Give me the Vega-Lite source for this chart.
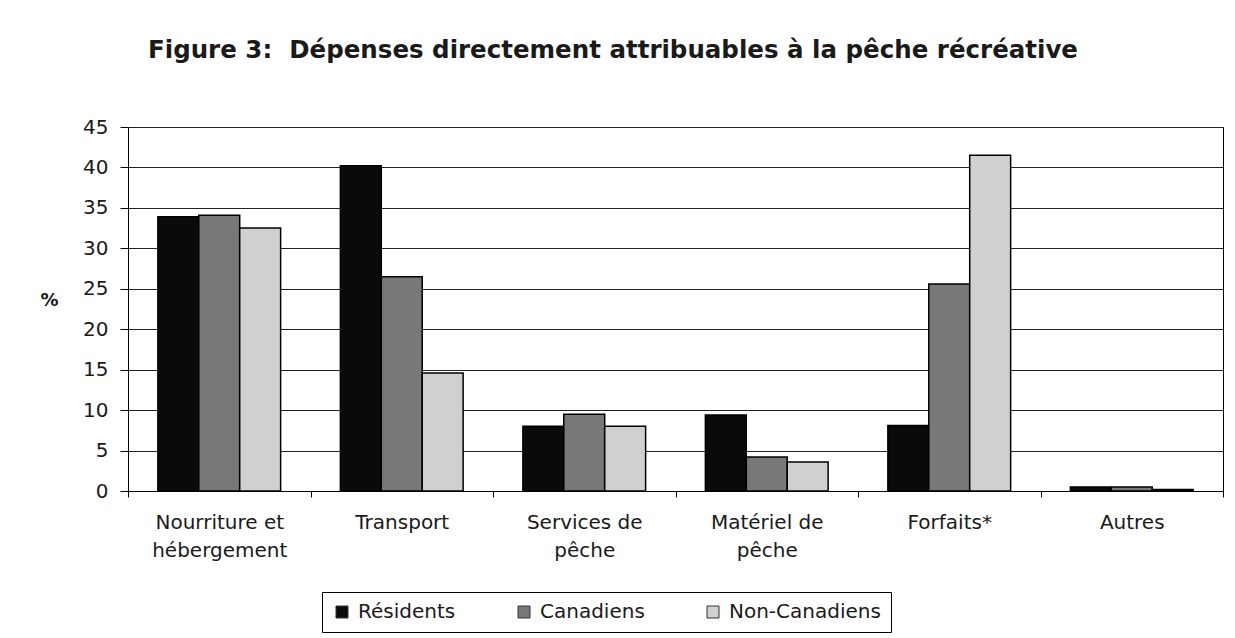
{
  "$schema": "https://vega.github.io/schema/vega-lite/v6.json",
  "autosize": {"type": "none"},
  "width": 1095,
  "height": 364,
  "padding": {"left": 128, "top": 127, "right": 12, "bottom": 147},
  "background": "white",
  "title": {
    "text": "Figure 3:\u00a0 Dépenses directement attribuables à la pêche récréative",
    "anchor": "start",
    "frame": "group",
    "dx": 20,
    "offset": 54,
    "font": "DejaVu Sans",
    "fontSize": 24.5,
    "fontWeight": "bold",
    "color": "#1a1a1a"
  },
  "data": {
    "values": [
      {"categorie": "Nourriture et hébergement", "groupe": "Résidents", "pct": 33.9},
      {"categorie": "Nourriture et hébergement", "groupe": "Canadiens", "pct": 34.1},
      {"categorie": "Nourriture et hébergement", "groupe": "Non-Canadiens", "pct": 32.5},
      {"categorie": "Transport", "groupe": "Résidents", "pct": 40.2},
      {"categorie": "Transport", "groupe": "Canadiens", "pct": 26.5},
      {"categorie": "Transport", "groupe": "Non-Canadiens", "pct": 14.6},
      {"categorie": "Services de pêche", "groupe": "Résidents", "pct": 8.0},
      {"categorie": "Services de pêche", "groupe": "Canadiens", "pct": 9.5},
      {"categorie": "Services de pêche", "groupe": "Non-Canadiens", "pct": 8.0},
      {"categorie": "Matériel de pêche", "groupe": "Résidents", "pct": 9.4},
      {"categorie": "Matériel de pêche", "groupe": "Canadiens", "pct": 4.2},
      {"categorie": "Matériel de pêche", "groupe": "Non-Canadiens", "pct": 3.6},
      {"categorie": "Forfaits*", "groupe": "Résidents", "pct": 8.1},
      {"categorie": "Forfaits*", "groupe": "Canadiens", "pct": 25.6},
      {"categorie": "Forfaits*", "groupe": "Non-Canadiens", "pct": 41.5},
      {"categorie": "Autres", "groupe": "Résidents", "pct": 0.5},
      {"categorie": "Autres", "groupe": "Canadiens", "pct": 0.5},
      {"categorie": "Autres", "groupe": "Non-Canadiens", "pct": 0.2}
    ]
  },
  "mark": {"type": "bar", "stroke": "#000", "strokeWidth": 1.5},
  "encoding": {
    "x": {
      "field": "categorie",
      "type": "nominal",
      "sort": null,
      "scale": {"paddingInner": 0, "paddingOuter": 0},
      "axis": {
        "title": null,
        "labelAngle": 0,
        "tickBand": "extent",
        "tickSize": 6,
        "tickColor": "#000",
        "domainColor": "#000",
        "labelFont": "DejaVu Sans",
        "labelFontSize": 20,
        "labelColor": "#1a1a1a",
        "labelPadding": 15,
        "labelLineHeight": 28,
        "labelLimit": 0,
        "labelExpr": "datum.value == 'Nourriture et hébergement' ? ['Nourriture et', 'hébergement'] : datum.value == 'Services de pêche' ? ['Services de', 'pêche'] : datum.value == 'Matériel de pêche' ? ['Matériel de', 'pêche'] : datum.label"
      }
    },
    "xOffset": {
      "field": "groupe",
      "type": "nominal",
      "sort": ["Résidents", "Canadiens", "Non-Canadiens"],
      "scale": {"paddingInner": 0, "paddingOuter": 0.73}
    },
    "y": {
      "field": "pct",
      "type": "quantitative",
      "scale": {"domain": [0, 45], "nice": false},
      "axis": {
        "values": [0, 5, 10, 15, 20, 25, 30, 35, 40, 45],
        "title": "%",
        "titleAngle": 0,
        "titleX": -79,
        "titleY": 173,
        "titleAlign": "center",
        "titleBaseline": "middle",
        "titleFont": "DejaVu Sans",
        "titleFontSize": 18,
        "titleFontWeight": "bold",
        "titleColor": "#1a1a1a",
        "labelFont": "DejaVu Sans",
        "labelFontSize": 20,
        "labelColor": "#1a1a1a",
        "labelPadding": 12,
        "tickSize": 8,
        "tickColor": "#000",
        "domainColor": "#000",
        "grid": true,
        "gridColor": "#222",
        "gridWidth": 1
      }
    },
    "color": {
      "field": "groupe",
      "type": "nominal",
      "sort": ["Résidents", "Canadiens", "Non-Canadiens"],
      "scale": {
        "domain": ["Résidents", "Canadiens", "Non-Canadiens"],
        "range": ["#0a0a0a", "#787878", "#d0d0d0"]
      },
      "legend": {
        "title": null,
        "orient": "none",
        "legendX": 194,
        "legendY": 465,
        "direction": "horizontal",
        "columns": 3,
        "columnPadding": 58,
        "symbolType": "square",
        "symbolSize": 144,
        "symbolStrokeColor": "#333",
        "symbolStrokeWidth": 1,
        "symbolOpacity": 1,
        "labelFont": "DejaVu Sans",
        "labelFontSize": 20,
        "labelColor": "#1a1a1a",
        "labelOffset": 6,
        "labelLimit": 0,
        "strokeColor": "#000",
        "padding": 10
      }
    }
  },
  "config": {
    "view": {"stroke": "#000", "strokeWidth": 1},
    "axis": {"labelFlush": false}
  }
}
